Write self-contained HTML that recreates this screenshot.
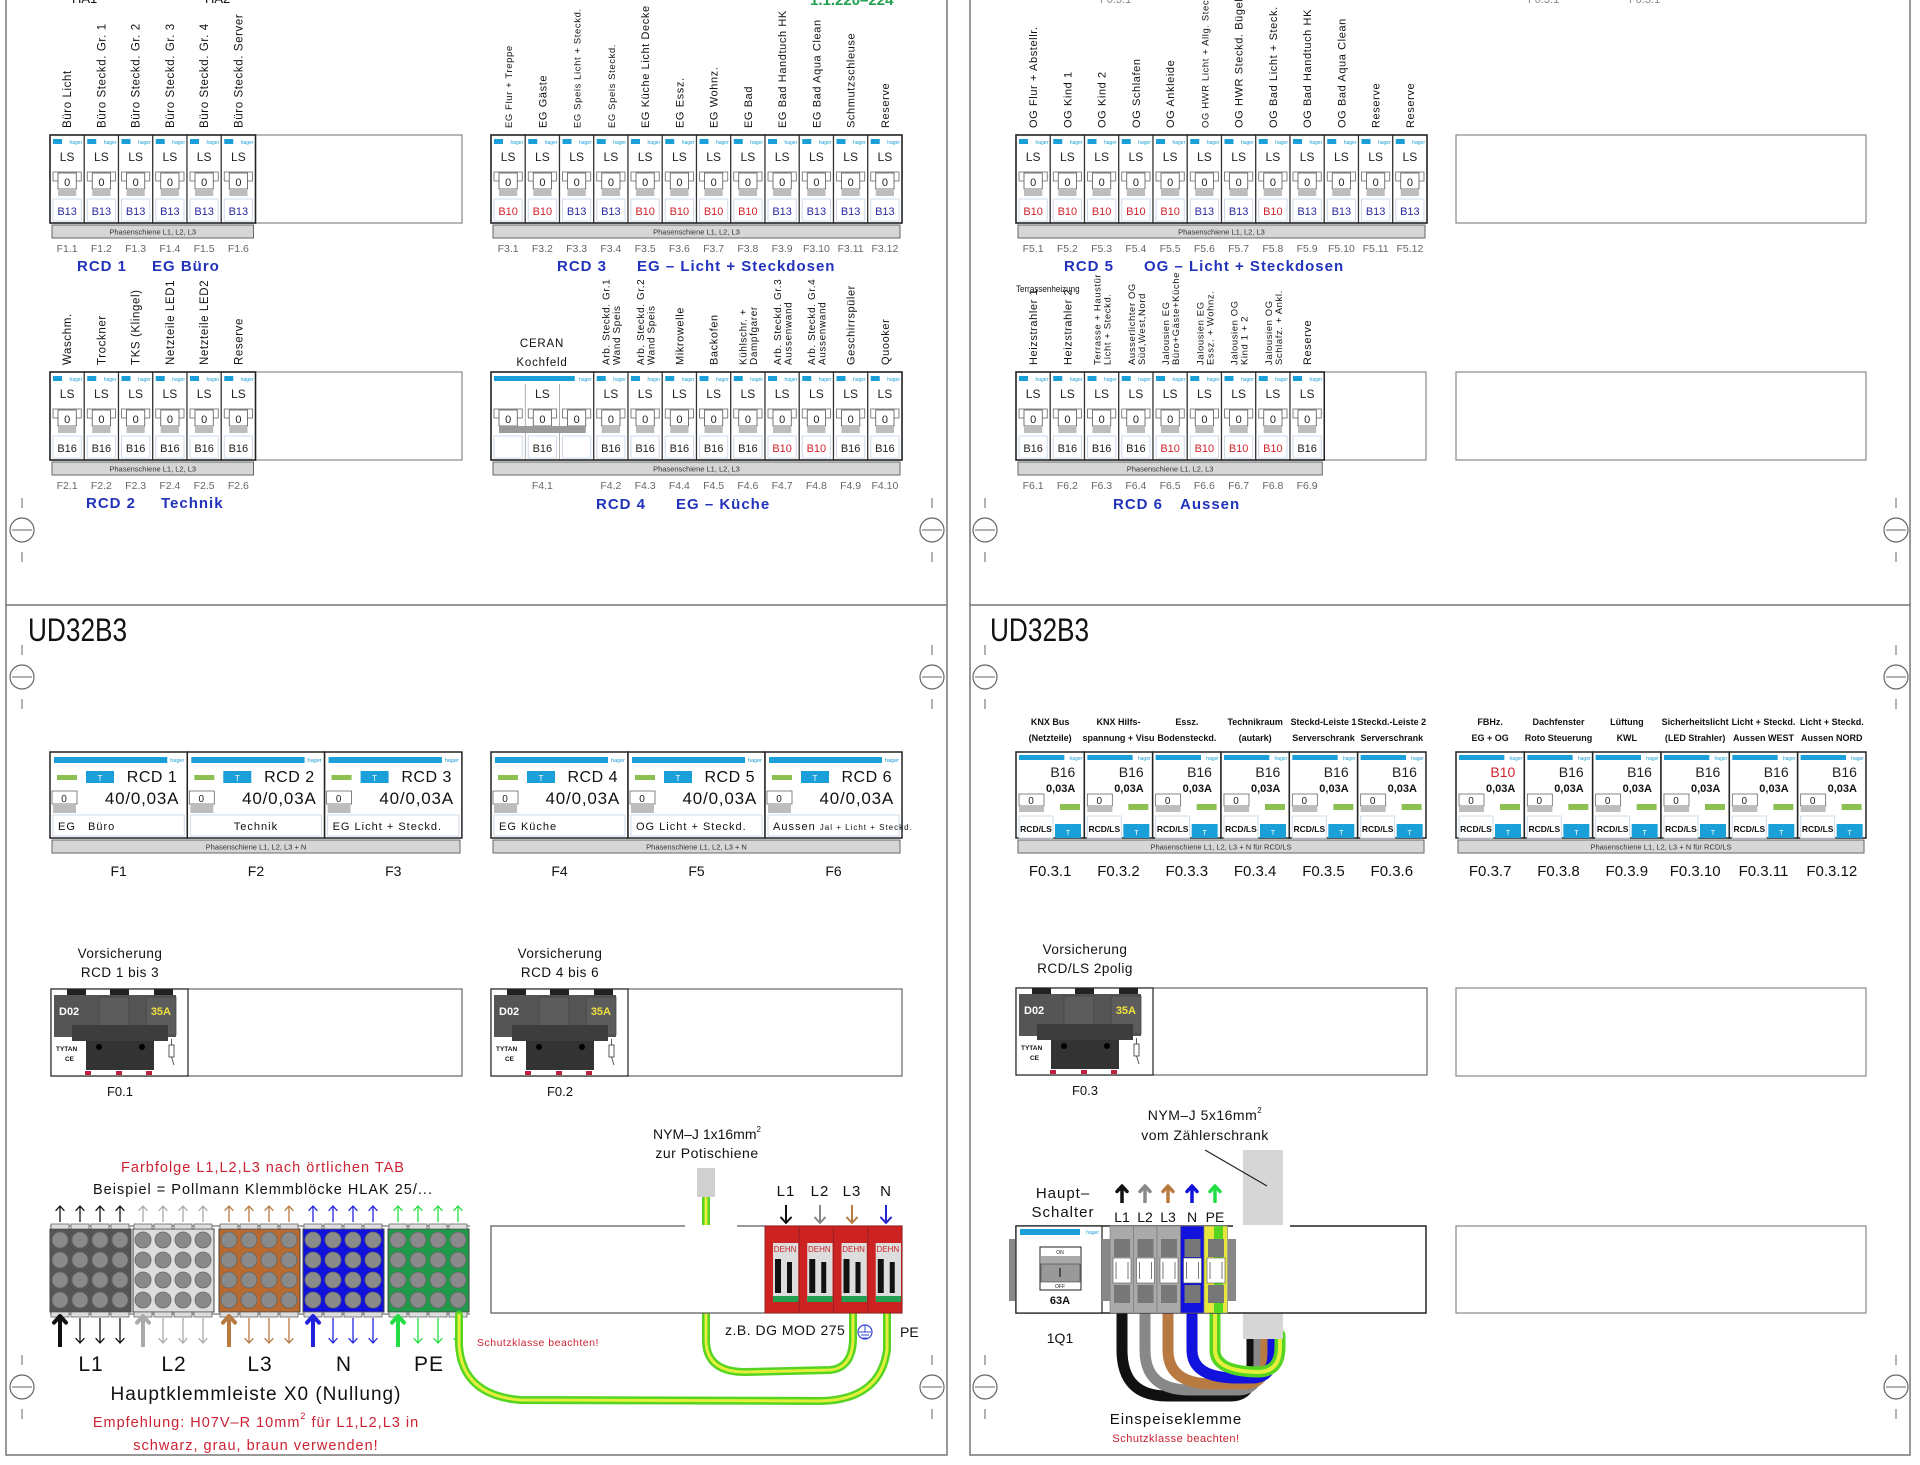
<!DOCTYPE html>
<html><head><meta charset="utf-8"><style>
html,body{margin:0;padding:0;background:#fff}
svg{display:block}
text{font-family:"Liberation Sans",sans-serif}
</style></head><body>
<svg id="s" xmlns="http://www.w3.org/2000/svg" width="1920" height="1465" viewBox="0 0 1920 1465"></svg>
<script>
const S=[];
function R(x,y,w,h,f,s,sw,ex){S.push(`<rect x="${x}" y="${y}" width="${w}" height="${h}" fill="${f||'none'}" stroke="${s||'none'}" stroke-width="${sw||1}" ${ex||''}/>`)}
function T(x,y,t,sz,c,a,ex){S.push(`<text x="${x}" y="${y}" font-size="${sz}" fill="${c||'#111'}" text-anchor="${a||'start'}" ${ex||''}>${t}</text>`)}
function L(x1,y1,x2,y2,c,w){S.push(`<line x1="${x1}" y1="${y1}" x2="${x2}" y2="${y2}" stroke="${c||'#333'}" stroke-width="${w||1}"/>`)}
function P(d,c,w,f){S.push(`<path d="${d}" stroke="${c||'none'}" stroke-width="${w||1}" fill="${f||'none'}" stroke-linecap="round" stroke-linejoin="round"/>`)}
function C(x,y,r,f,s,sw){S.push(`<circle cx="${x}" cy="${y}" r="${r}" fill="${f||'none'}" stroke="${s||'none'}" stroke-width="${sw||1}"/>`)}
function arrow(x,y1,y2,c,w,h){
  const d=y2<y1?1:-1; h=h||5;
  L(x,y1,x,y2+d*1,c,w);
  P(`M${x-h} ${y2+d*h*1.1} L${x} ${y2} L${x+h} ${y2+d*h*1.1}`,c,w);
}
const BLUE='#2a2aa0',RED='#d2232a',BLK='#222',HB='#1a9fd8';
const MW=34.25;
function vlab(cx,yb,lines,sz){
  const n=lines.length;
  lines.forEach((t,j)=>{
    const xx=cx+4+(j-(n-1)/2)*sz*1.05;
    S.push(`<text transform="translate(${xx.toFixed(1)},${yb}) rotate(-90)" font-size="${sz}" fill="#111" letter-spacing="0.6">${t}</text>`);
  });
}
function toggle(x,y,w){
  R(x+3,y+37,w-6,9,'#fff','#666',0.8);
  R(x+8,y+38,w-16,16,'#fff','#555',0.8);
  T(x+w/2,y+51,'0',11,'#222','middle');
  R(x+8,y+54,w-16,7,'#bdbdbd');
}
function ls(x,y,w,cur,col){
  R(x,y,w,88,'#fff','#333',1.2);
  R(x+3,y+4,9,5,HB);
  T(x+w-2,y+9,'hager',5,HB,'end');
  T(x+w/2,y+26,'LS',12,'#222','middle');
  toggle(x,y,w);
  R(x+3,y+64,w-6,22,'#fff','#cfdbe8',1);
  T(x+w/2,y+80,cur,11,col,'middle');
}
function rail(x,y,w,txt){R(x+2,y,w-4,13,'#d6d6d6','#666',1);T(x+w/2,y+9.5,txt,7.5,'#333','middle');}
function row(x,y,fw,mods,flabs){
  R(x,y,fw,88,'none','#888',1.2);
  mods.forEach((m,i)=>{ls(x+i*MW,y,MW,m[0],m[1]);});
  const n=mods.length;
  R(x,y,n*MW,88,'none','#222',1.5);
  rail(x,y+90,n*MW,'Phasenschiene L1, L2, L3');
  flabs.forEach((f,i)=>T(x+i*MW+MW/2,y+117,f,10.5,'#666','middle'));
}
function col(c){return c=='B13'?BLUE:(c=='B10'?RED:BLK);}
function mk(arr){return arr.map(c=>[c,col(c)]);}

R(6,-2,941,1457,'none','#777',1.5);
R(970,-2,940,1457,'none','#777',1.5);
L(6,605,947,605,'#777',1.5);L(970,605,1910,605,'#777',1.5);
function mark(x,y){C(x,y,12,'#fff','#666',1.2);L(x-10,y,x+10,y,'#666',1);L(x,y-32,x,y-22,'#666',1);L(x,y+22,x,y+32,'#666',1);}
[530,677,1387].forEach(y=>{mark(22,y);mark(932,y);mark(985,y);mark(1896,y);});
T(28,641,'UD32B3',32,'#111','start','transform="translate(28,641) scale(0.82,1) translate(-28,-641)"');
T(990,641,'UD32B3',32,'#111','start','transform="translate(990,641) scale(0.82,1) translate(-990,-641)"');
T(72,3,'HA1',13,'#111');T(205,3,'HA2',13,'#111');
T(810,5,'1.1.220–224',15,'#22a050','start','font-weight="bold"');
T(1100,3,'F0.3.1',11,'#888');T(1528,3,'F0.3.1',11,'#888');T(1629,3,'F0.3.1',11,'#888');

const Y1=135,Y2=372;
let lab1=['Büro Licht','Büro Steckd. Gr. 1','Büro Steckd. Gr. 2','Büro Steckd. Gr. 3','Büro Steckd. Gr. 4','Büro Steckd. Server'];
lab1.forEach((t,i)=>vlab(50+i*MW+MW/2,Y1-7,[t],11.5));
row(50,Y1,412,mk(['B13','B13','B13','B13','B13','B13']),['F1.1','F1.2','F1.3','F1.4','F1.5','F1.6']);
T(77,271,'RCD 1',15,'#2233bb','start','font-weight="bold" letter-spacing="1"');T(152,271,'EG Büro',15,'#2233bb','start','font-weight="bold" letter-spacing="1"');
let lab3=['EG Flur + Treppe','EG Gäste','EG Speis Licht + Steckd.','EG Speis Steckd.','EG Küche Licht Decke','EG Essz.','EG Wohnz.','EG Bad','EG Bad Handtuch HK','EG Bad Aqua Clean','Schmutzschleuse','Reserve'];
lab3.forEach((t,i)=>vlab(491+i*MW+MW/2,Y1-7,[t],(i==2||i==3||i==0)?9.5:11));
row(491,Y1,411,mk(['B10','B10','B13','B13','B10','B10','B10','B10','B13','B13','B13','B13']),['F3.1','F3.2','F3.3','F3.4','F3.5','F3.6','F3.7','F3.8','F3.9','F3.10','F3.11','F3.12']);
T(557,271,'RCD 3',15,'#2233bb','start','font-weight="bold" letter-spacing="1"');T(637,271,'EG – Licht + Steckdosen',15,'#2233bb','start','font-weight="bold" letter-spacing="1"');
let lab5=['OG Flur + Abstellr.','OG Kind 1','OG Kind 2','OG Schlafen','OG Ankleide','OG HWR Licht + Allg. Steckd','OG HWR Steckd. Bügeln','OG Bad Licht + Steck.','OG Bad Handtuch HK','OG Bad Aqua Clean','Reserve','Reserve'];
lab5.forEach((t,i)=>vlab(1016+i*MW+MW/2,Y1-7,[t],i==5?9.5:11));
row(1016,Y1,410,mk(['B10','B10','B10','B10','B10','B13','B13','B10','B13','B13','B13','B13']),['F5.1','F5.2','F5.3','F5.4','F5.5','F5.6','F5.7','F5.8','F5.9','F5.10','F5.11','F5.12']);
T(1064,271,'RCD 5',15,'#2233bb','start','font-weight="bold" letter-spacing="1"');T(1144,271,'OG – Licht + Steckdosen',15,'#2233bb','start','font-weight="bold" letter-spacing="1"');
R(1456,Y1,410,88,'none','#888',1.2);
let lab2=['Waschm.','Trockner','TKS (Klingel)','Netzteile LED1','Netzteile LED2','Reserve'];
lab2.forEach((t,i)=>vlab(50+i*MW+MW/2,Y2-7,[t],11.5));
row(50,Y2,412,mk(['B16','B16','B16','B16','B16','B16']),['F2.1','F2.2','F2.3','F2.4','F2.5','F2.6']);
T(86,508,'RCD 2',15,'#2233bb','start','font-weight="bold" letter-spacing="1"');T(161,508,'Technik',15,'#2233bb','start','font-weight="bold" letter-spacing="1"');
T(542,347,'CERAN',11.5,'#111','middle','letter-spacing="0.8"');T(542,366,'Kochfeld',11.5,'#111','middle','letter-spacing="0.8"');
let lab4=[['Arb. Steckd. Gr.1','Wand Speis'],['Arb. Steckd. Gr.2','Wand Speis'],['Mikrowelle'],['Backofen'],['Kühlschr. +','Dampfgarer'],['Arb. Steckd. Gr.3','Aussenwand'],['Arb. Steckd. Gr.4','Aussenwand'],['Geschirrspüler'],['Quooker']];
lab4.forEach((t,i)=>vlab(491+(i+3)*MW+MW/2,Y2-7,t,t.length>1?10:11));
(function(){
  const x=491,y=Y2;
  R(x,y,411,88,'none','#888',1.2);
  R(x,y,3*MW,88,'#fff','#333',1.2);
  L(x+MW,y+12,x+MW,y+88,'#999',0.8);L(x+2*MW,y+12,x+2*MW,y+88,'#999',0.8);
  R(x+3,y+4,3*MW-22,5,HB);T(x+3*MW-2,y+9,'hager',5,HB,'end');
  T(x+1.5*MW,y+26,'LS',12,'#222','middle');
  for(let k=0;k<3;k++){const xx=x+k*MW;R(xx+3,y+37,MW-6,9,'#fff','#666',0.8);R(xx+8,y+38,MW-16,16,'#fff','#555',0.8);T(xx+MW/2,y+51,'0',11,'#222','middle');}
  R(x+8,y+54,3*MW-16,7,'#9a9a9a');
  for(let k=0;k<3;k++){R(x+k*MW+3,y+64,MW-6,22,'#fff','#cfdbe8',1);}
  T(x+1.5*MW,y+80,'B16',11,BLK,'middle');
  const cur=['B16','B16','B16','B16','B16','B10','B10','B16','B16'];
  cur.forEach((c,i)=>ls(x+(i+3)*MW,y,MW,c,col(c)));
  R(x,y,12*MW,88,'none','#222',1.5);
  rail(x,y+90,12*MW,'Phasenschiene L1, L2, L3');
  T(x+1.5*MW,y+117,'F4.1',10.5,'#666','middle');
  for(let i=0;i<9;i++)T(x+(i+3)*MW+MW/2,y+117,'F4.'+(i+2),10.5,'#666','middle');
})();
T(596,509,'RCD 4',15,'#2233bb','start','font-weight="bold" letter-spacing="1"');T(676,509,'EG – Küche',15,'#2233bb','start','font-weight="bold" letter-spacing="1"');
T(1016,292,'Terrassenheizung',9.5,'#111','start','transform="translate(1016,292) scale(0.85,1) translate(-1016,-292)"');
let lab6=[['Heizstrahler 1'],['Heizstrahler 2'],['Terrasse + Haustür','Licht + Steckd.'],['Ausserlichter OG','Süd,West,Nord'],['Jalousien EG','Büro+Gäste+Küche'],['Jalousien EG','Essz. + Wohnz.'],['Jalousien OG','Kind 1 + 2'],['Jalousien OG','Schlafz. + Ankl.'],['Reserve']];
lab6.forEach((t,i)=>vlab(1016+i*MW+MW/2,Y2-7,t,t.length>1?9.5:11));
row(1016,Y2,410,mk(['B16','B16','B16','B16','B10','B10','B10','B10','B16']),['F6.1','F6.2','F6.3','F6.4','F6.5','F6.6','F6.7','F6.8','F6.9']);
T(1113,509,'RCD 6',15,'#2233bb','start','font-weight="bold" letter-spacing="1"');T(1180,509,'Aussen',15,'#2233bb','start','font-weight="bold" letter-spacing="1"');
R(1456,Y2,410,88,'none','#888',1.2);

function big(x,w,name,desc,anc,dsz){
  const y=752;
  R(x,y,w,86,'#fff','#222',1.5);
  R(x+4,y+5,w-24,6,HB);T(x+w-3,y+10,'hager',5.5,HB,'end');
  R(x+7,y+23,20,5,'#8cc152');
  R(x+36,y+19,28,12,HB);T(x+50,y+29,'T',8,'#fff','middle');
  T(x+w-10,y+30,name,16,'#111','end','letter-spacing="0.5"');
  R(x+2,y+39,25,13,'#fff','#666',0.8);T(x+14,y+50,'0',10,'#222','middle');R(x+3,y+52,23,9,'#bdbdbd');
  T(x+w-8,y+52,'40/0,03A',17,'#111','end','letter-spacing="0.8"');
  R(x+3,y+63,w-6,21,'#fff','#cfdbe8',1);
  if(anc=='middle')T(x+w/2,y+78,desc,11,'#111','middle','letter-spacing="1"');
  else T(x+8,y+78,desc,dsz||11,'#111','start','letter-spacing="1"');
}
const BW=137.3;
big(50,BW,'RCD 1','EG&#160;&#160;&#160;Büro');big(50+BW,BW,'RCD 2','Technik','middle');big(50+2*BW,BW,'RCD 3','EG Licht + Steckd.');
rail(50,840,412,'Phasenschiene L1, L2, L3 + N');
['F1','F2','F3'].forEach((f,i)=>T(50+i*BW+BW/2,876,f,14,'#111','middle'));
big(491,137,'RCD 4','EG Küche');big(628,137,'RCD 5','OG Licht + Steckd.');big(765,137,'RCD 6','Aussen <tspan font-size="8">Jal + Licht + Steckd.</tspan>');
rail(491,840,411,'Phasenschiene L1, L2, L3 + N');
['F4','F5','F6'].forEach((f,i)=>T(491+i*137+68.5,876,f,14,'#111','middle'));

function rl(x,w,cur,c){
  const y=752;
  R(x,y,w,86,'#fff','#222',1.5);
  R(x+3,y+3,w-23,5,HB);T(x+w-2,y+8,'hager',5,HB,'end');
  T(x+w-9,y+25,cur,14,c,'end');
  T(x+w-9,y+40,'0,03A',11,'#111','end','font-weight="bold"');
  R(x+3,y+42,25,12,'#fff','#666',0.8);T(x+15,y+52,'0',10,'#222','middle');R(x+3,y+54,25,6,'#bdbdbd');
  R(x+44,y+52,20,6,'#8cc152');
  R(x+3,y+64,34,22,'#fff','#cfdbe8',1);T(x+20,y+80,'RCD/LS',8.5,'#111','middle','font-weight="bold"');
  R(x+39,y+72,26,14,HB);T(x+52,y+83,'T',7,'#fff','middle');
}
const RW=68.33;
let g1=[['KNX Bus','(Netzteile)'],['KNX Hilfs-','spannung + Visu'],['Essz.','Bodensteckd.'],['Technikraum','(autark)'],['Steckd-Leiste 1','Serverschrank'],['Steckd.-Leiste 2','Serverschrank']];
let g2=[['FBHz.','EG + OG'],['Dachfenster','Roto Steuerung'],['Lüftung','KWL'],['Sicherheitslicht','(LED Strahler)'],['Licht + Steckd.','Aussen WEST'],['Licht + Steckd.','Aussen NORD']];
function grp(x0,labs,curs,fl){
  labs.forEach((l,i)=>{const cx=x0+i*RW+RW/2;T(cx,725,l[0],9,'#111','middle','font-weight="bold"');T(cx,741,l[1],9,'#111','middle','font-weight="bold"');});
  curs.forEach((c,i)=>rl(x0+i*RW,RW,c,col(c)));
  rail(x0,840,410,'Phasenschiene L1, L2, L3 + N für RCD/LS');
  fl.forEach((f,i)=>T(x0+i*RW+RW/2,876,f,15,'#111','middle'));
}
grp(1016,g1,['B16','B16','B16','B16','B16','B16'],['F0.3.1','F0.3.2','F0.3.3','F0.3.4','F0.3.5','F0.3.6']);
grp(1456,g2,['B10','B16','B16','B16','B16','B16'],['F0.3.7','F0.3.8','F0.3.9','F0.3.10','F0.3.11','F0.3.12']);

function fuse(x,y,l1,l2,fl,ty){
  T(x+69,ty,l1,13.5,'#111','middle','letter-spacing="0.5"');T(x+69,ty+19,l2,13.5,'#111','middle','letter-spacing="0.5"');
  R(x,y,411,87,'none','#666',1.2);
  R(x,y,137,87,'#fff','#222',1.2);
  R(x+16,y,19,6,'#222');R(x+59,y,19,6,'#222');R(x+103,y,19,6,'#222');
  R(x+3,y+6,122,42,'#555');
  R(x+48,y+8,30,38,'#5c5c5c','#444',0.8);R(x+95,y+8,30,38,'#5c5c5c','#444',0.8);
  T(x+8,y+26,'D02',11,'#fff','start','font-weight="bold"');
  T(x+120,y+26,'35A',11,'#f0e040','end','font-weight="bold"');
  R(x+21,y+36,96,16,'#3d3d3d');
  R(x+35,y+52,68,29,'#333');
  C(x+48,y+58,3,'#000');C(x+91,y+58,3,'#000');
  T(x+5,y+62,'TYTAN',6.5,'#111','start','font-weight="bold"');T(x+23,y+72,'CE',6.5,'#111','end','font-weight="bold"');
  R(x+34,y+82,6,4,'#c02040');R(x+65,y+82,6,4,'#c02040');R(x+95,y+82,6,4,'#c02040');
  R(x+118,y+56,5,12,'#fff','#333',0.8);L(x+120.5,y+50,x+120.5,y+56,'#333',0.8);L(x+120.5,y+68,x+123,y+76,'#333',0.8);
  T(x+69,y+107,fl,13,'#111','middle');
}
fuse(51,989,'Vorsicherung','RCD 1 bis 3','F0.1',958);
fuse(491,989,'Vorsicherung','RCD 4 bis 6','F0.2',958);
fuse(1016,988,'Vorsicherung','RCD/LS 2polig','F0.3',954);
R(1456,988,410,88,'none','#888',1.2);

T(263,1172,'Farbfolge L1,L2,L3 nach örtlichen TAB',14.5,'#cc2233','middle','letter-spacing="1"');
T(263,1194,'Beispiel = Pollmann Klemmblöcke HLAK 25/...',14.5,'#111','middle','letter-spacing="1"');
const blocks=[[50,'#555','#111','#111','L1'],[133,'#dcdcdc','#aaa','#aaa','L2'],[219,'#b86a30','#b87a40','#b87a40','L3'],[303,'#1212dd','#2222dd','#2222dd','N'],[388,'#1f9a4a','#22dd44','#22dd44','PE']];
L(50,1226,470,1226,'#555',1);L(50,1314,470,1314,'#555',1);
blocks.forEach(b=>{
  const x=b[0];
  R(x,1229,81,83,b[1],'#444',1);
  for(let c=0;c<4;c++){
    const cx=x+10+c*20;
    R(cx-9,1224,18,5,'#ddd','#555',0.7);R(cx-9,1312,18,5,'#ddd','#555',0.7);
    for(let r=0;r<4;r++)C(cx,1240+r*20,8,'#8a8a8a','#666',0.8);
    arrow(cx,1222,1206,b[2],1.3,4);
    if(c==0)arrow(cx,1347,1316,b[3],4,6);
    else arrow(cx,1318,1343,b[3],1.3,4);
  }
  T(x+41,1371,b[4],21,'#111','middle','letter-spacing="1"');
});
T(256,1400,'Hauptklemmleiste X0 (Nullung)',19,'#111','middle','letter-spacing="1"');
T(256,1427,'Empfehlung: H07V–R 10mm<tspan font-size="9" dy="-8">2</tspan><tspan dy="8"> für L1,L2,L3 in</tspan>',14.5,'#cc2233','middle','letter-spacing="1"');
T(256,1450,'schwarz, grau, braun verwenden!',14.5,'#cc2233','middle','letter-spacing="1"');

function gy(d){P(d,'#55d422',8);P(d,'#e6ee3c',3);}
gy('M459 1315 L459 1345 Q462 1395 520 1400 L820 1401 Q880 1400 887 1350 L887 1313');
gy('M706 1198 L706 1340 Q706 1372 745 1372 L830 1370 Q852 1368 853 1340 L853 1313');
R(491,1226,411,87,'#fff','#555',1.2);
L(685,1226,737,1226,'#fff',2);
R(697,1168,18,29,'#d0d0d0');
for(let i=0;i<4;i++){
  const x=765+i*MW;
  R(x,1226,MW,87,'#cc2222','#992222',1);
  R(x+8,1243,MW-9,58,'#ddd');
  T(x+MW/2+3,1252,'DEHN',8,'#cc2222','middle');
  R(x+10,1259,6,34,'#111');R(x+22,1262,5,31,'#111');
  R(x+8,1296,MW-9,6,'#22a050');
}
[['L1',786,'#111'],['L2',820,'#888'],['L3',852,'#b87a40'],['N',886,'#2222cc']].forEach(a=>{T(a[1],1196,a[0],15,'#111','middle','letter-spacing="1"');arrow(a[1],1205,1223,a[2],2,5);});
T(707,1139,'NYM–J 1x16mm<tspan font-size="8" dy="-7">2</tspan>',14,'#111','middle');
T(707,1158,'zur Potischiene',14,'#111','middle','letter-spacing="0.5"');
T(725,1335,'z.B. DG MOD 275',14,'#111','start','letter-spacing="0.5"');
C(865,1332,7,'#fff','#3344cc',1.2);L(859,1332,871,1332,'#3344cc',1);L(865,1325,865,1332,'#3344cc',1);L(861,1335,869,1335,'#3344cc',1);L(863,1338,867,1338,'#3344cc',1);
T(900,1337,'PE',14,'#111');
T(477,1346,'Schutzklasse beachten!',10.5,'#cc2233','start','letter-spacing="0.5"');

const cx5=[1122,1145,1168,1192,1215],cc=['#111','#888','#b87a40','#1212dd','#55d422'];
for(let k=0;k<5;k++){
  const xi=cx5[k],yb=1396-k*6,xe=1252+k*7;
  const d=`M${xi} 1313 L${xi} 1350 Q${xi} ${yb} ${xi+45} ${yb} L${xe-22} ${yb} Q${xe} ${yb} ${xe} ${yb-25} L${xe} 1335`;
  P(d,cc[k],11);
  if(k==4)P(d,'#e6ee3c',4);
}
R(1243,1150,40,76,'#d6d6d6');R(1243,1313,40,26,'#d6d6d6');
L(1205,1150,1267,1186,'#222',1.2);
T(1205,1120,'NYM–J 5x16mm<tspan font-size="8" dy="-7">2</tspan>',14,'#111','middle','letter-spacing="0.5"');
T(1205,1140,'vom Zählerschrank',14,'#111','middle','letter-spacing="0.5"');
T(1063,1198,'Haupt–',15,'#111','middle','letter-spacing="1"');T(1063,1217,'Schalter',15,'#111','middle','letter-spacing="1"');
['L1','L2','L3','N','PE'].forEach((l,k)=>{arrow(cx5[k],1203,1186,cc[k]=='#55d422'?'#22dd44':cc[k],3.5,5);T(cx5[k],1222,l,14,'#111','middle');});
R(1016,1226,410,87,'#fff','#222',1.5);
L(1233,1226,1290,1226,'#fff',2);
R(1009,1239,7,62,'#888');
R(1016,1226,86,87,'#fff','#222',1.2);
R(1020,1229,60,6,HB);T(1099,1234,'hager',5,HB,'end');
R(1040,1247,41,43,'#fff','#222',1);T(1060,1254,'ON',5,'#111','middle');
R(1041,1256,39,8,'#aaa');R(1041,1264,39,18,'#999','#444',0.6);L(1060,1268,1060,1277,'#333',1.5);T(1060,1288,'OFF',5,'#111','middle');
T(1060,1304,'63A',11,'#111','middle','font-weight="bold"');
R(1102,1239,8,62,'#888');
const tc=['#aaa','#aaa','#aaa','#1212dd','#e6e63c'];
for(let k=0;k<5;k++){
  const x=1110+k*23.5;
  R(x,1226,23.5,87,tc[k],'#777',0.6);
  if(k==4)R(x+10,1226,9,87,'#55d422');
  R(x+4,1239,16,18,'#777');R(x+4,1285,16,18,'#777');
  R(x+3,1258,18,25,'#fff','#555',0.6);L(x+6,1262,x+6,1279,'#555',0.8);L(x+18,1262,x+18,1279,'#555',0.8);
}
R(1228,1239,8,62,'#888');
T(1060,1343,'1Q1',14,'#111','middle');
T(1176,1424,'Einspeiseklemme',15,'#111','middle','letter-spacing="1"');
T(1176,1442,'Schutzklasse beachten!',11,'#cc2233','middle','letter-spacing="0.5"');
R(1456,1226,410,87,'none','#888',1.2);

document.getElementById('s').innerHTML=S.join('');
</script>
</body></html>
